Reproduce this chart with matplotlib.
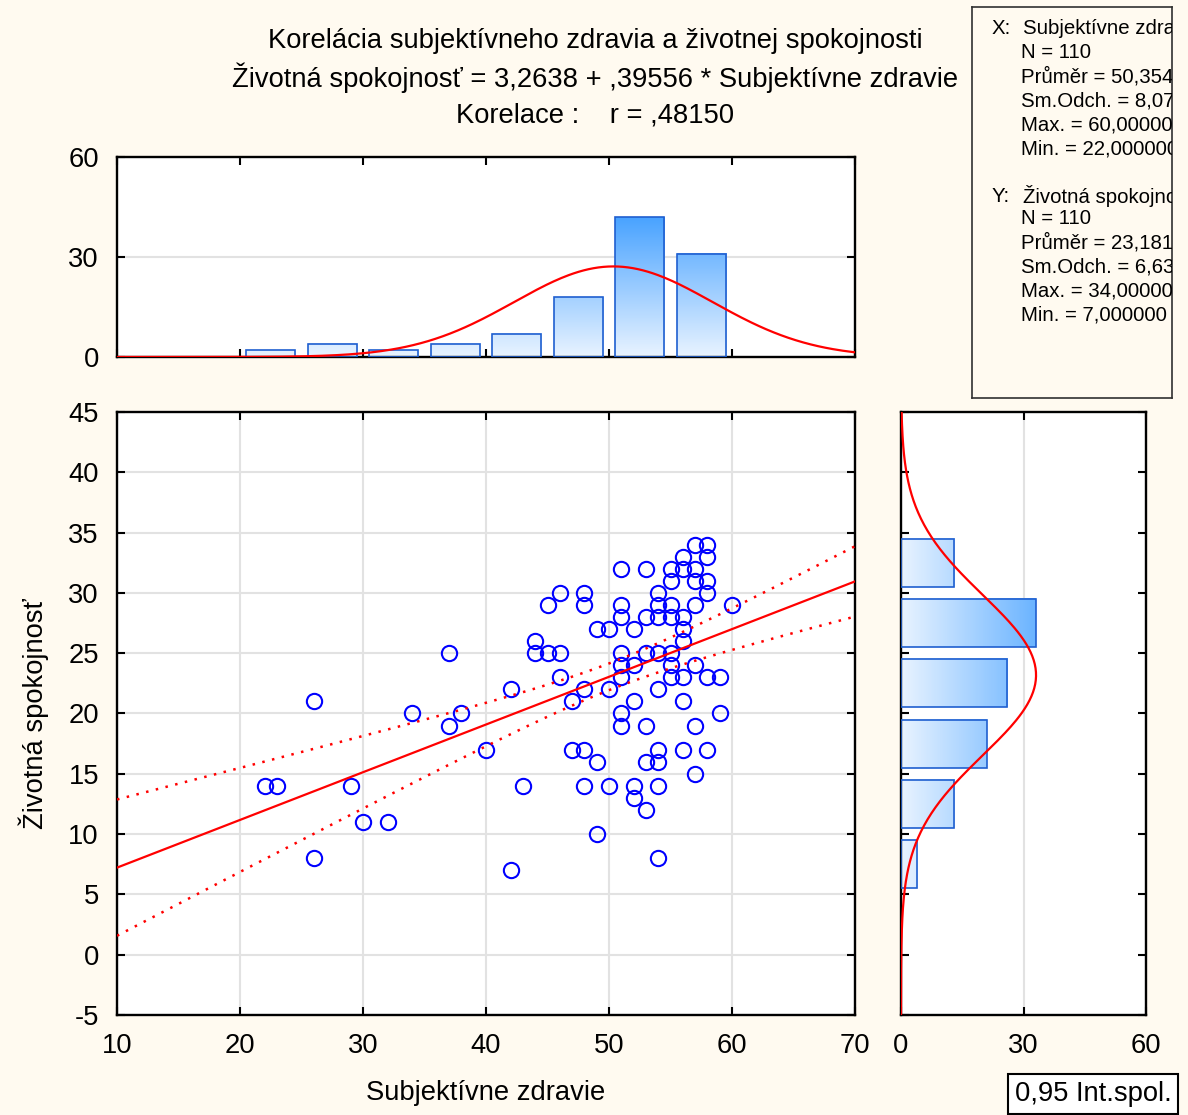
"""
Korelacia subjektivneho zdravia a zivotnej spokojnosti:
scatter plot with regression line, 0.95 band and marginal histograms.
"""

import numpy as np
import matplotlib as mpl
import matplotlib.pyplot as plt
from matplotlib.colors import LinearSegmentedColormap
from matplotlib.patches import Rectangle


# scatter points (overlapping duplicates are hidden):
zdravie = [22, 23, 26, 26, 29, 30, 32, 34, 37, 37, 38, 40, 42, 42, 43,
           44, 44, 45, 45, 46, 46, 46, 47, 47, 48, 48, 48, 48, 48,
           49, 49, 49, 50, 50, 50,
           51, 51, 51, 51, 51, 51, 51, 51,
           52, 52, 52, 52, 52,
           53, 53, 53, 53, 53, 53,
           54, 54, 54, 54, 54, 54, 54, 54, 54,
           55, 55, 55, 55, 55, 55, 55,
           56, 56, 56, 56, 56, 56, 56, 56,
           57, 57, 57, 57, 57, 57, 57,
           58, 58, 58, 58, 58, 58,
           59, 59, 60]
spokojnost = [14, 14, 21, 8, 14, 11, 11, 20, 25, 19, 20, 17, 22, 7, 14,
              26, 25, 29, 25, 30, 25, 23, 21, 17, 30, 29, 22, 17, 14,
              27, 16, 10, 27, 22, 14,
              32, 29, 28, 25, 24, 23, 20, 19,
              27, 24, 21, 14, 13,
              32, 28, 25, 19, 16, 12,
              30, 29, 28, 25, 22, 17, 16, 14, 8,
              32, 31, 29, 28, 25, 24, 23,
              33, 32, 28, 27, 26, 23, 21, 17,
              34, 32, 31, 29, 24, 19, 15,
              34, 33, 31, 30, 23, 17,
              23, 20, 29]

# marginal histograms (bin centers and counts):
hist_x_centers = [22.5, 27.5, 32.5, 37.5, 42.5, 47.5, 52.5, 57.5]
hist_x_counts = [2, 4, 2, 4, 7, 18, 42, 31]
hist_y_centers = [7.5, 12.5, 17.5, 22.5, 27.5, 32.5]
hist_y_counts = [4, 13, 21, 26, 33, 13]
bin_width = 5.0

# summary statistics as printed on the chart:
n_obs = 110
mean_x, sd_x = 50.354545, 8.0750
mean_y, sd_y = 23.181818, 6.6345
intercept, slope = 3.2638, 0.39556
r_xy = 0.48150
t_95 = 1.982

title_lines = ['Korelácia subjektívneho zdravia a životnej spokojnosti',
               'Životná spokojnosť = 3,2638 + ,39556 * Subjektívne zdravie',
               'Korelace :    r = ,48150']
stats_x = ['N = 110', 'Průměr = 50,354545', 'Sm.Odch. = 8,075000',
           'Max. = 60,000000', 'Min. = 22,000000']
stats_y = ['N = 110', 'Průměr = 23,181818', 'Sm.Odch. = 6,634500',
           'Max. = 34,000000', 'Min. = 7,000000']

W, H = 1188, 1115
bg_color = '#fffaf0'
bar_cmap = LinearSegmentedColormap.from_list('bars', ['#e8f3ff', '#0681ff'])
bar_edge = '#1f5fd0'
fs = 19.7


def px_rect(left, top, right, bottom):
    """ Axes rectangle from pixel coordinates (origin top left). """
    return [left/W, 1.0 - bottom/H, (right - left)/W, (bottom - top)/H]


def frame(ax):
    for s in ax.spines.values():
        s.set_linewidth(1.7)
        s.set_color('black')
    ax.tick_params(direction='in', top=True, right=True, length=6, width=1.5,
                   labelsize=fs, pad=13)


def grad_bar(ax, x0, x1, y0, y1, horizontal=False):
    """ Bar filled with a gradient along the value axis. """
    if horizontal:
        grad = np.linspace(x0, x1, 64).reshape(1, -1)
    else:
        grad = np.linspace(y0, y1, 64).reshape(-1, 1)
    ax.imshow(grad, extent=(x0, x1, y0, y1), origin='lower', cmap=bar_cmap,
              vmin=0, vmax=60, aspect='auto', zorder=2, interpolation='bilinear')
    ax.add_patch(Rectangle((x0, y0), x1 - x0, y1 - y0, fill=False,
                           edgecolor=bar_edge, lw=1.2, zorder=3))


def main():
    mpl.rcParams['font.family'] = ['Liberation Sans', 'DejaVu Sans']
    mpl.rcParams['axes.unicode_minus'] = False
    fig = plt.figure(figsize=(W/100, H/100), dpi=100)
    fig.patch.set_facecolor(bg_color)

    # scatter:
    ax = fig.add_axes(px_rect(117, 412, 855, 1015))
    frame(ax)
    ax.grid(True, color='#e2e2e2', lw=1.5)
    ax.set_axisbelow(True)
    ax.plot(zdravie, spokojnost, 'o', ms=11, mfc='none', mec='#0000ff', mew=1.5,
            zorder=4)
    xx = np.linspace(10, 70, 200)
    yy = intercept + slope*xx
    se = sd_y*np.sqrt(1 - r_xy**2)*np.sqrt((n_obs - 1)/(n_obs - 2))
    sxx = (n_obs - 1)*sd_x**2
    hw = t_95*se*np.sqrt(1.0/n_obs + (xx - mean_x)**2/sxx)
    ax.plot(xx, yy, color='#ff0000', lw=1.6, zorder=5)
    ax.plot(xx, yy + hw, color='#ff0000', lw=1.8, ls=(0, (1, 3)), zorder=5)
    ax.plot(xx, yy - hw, color='#ff0000', lw=1.8, ls=(0, (1, 3)), zorder=5)
    ax.set_xlim(10, 70)
    ax.set_ylim(-5, 45)
    ax.set_xticks(np.arange(10, 71, 10))
    ax.set_yticks(np.arange(-5, 46, 5))
    ax.set_xlabel('Subjektívne zdravie', fontsize=fs, labelpad=15)
    ax.set_ylabel('Životná spokojnosť', fontsize=fs, labelpad=14)

    # top histogram:
    axt = fig.add_axes(px_rect(117, 157, 855, 357))
    frame(axt)
    for c, n in zip(hist_x_centers, hist_x_counts):
        grad_bar(axt, c - 2, c + 2, 0, n)
    xt = np.linspace(10, 70, 300)
    axt.plot(xt, n_obs*bin_width*np.exp(-0.5*((xt - mean_x)/sd_x)**2)/(sd_x*np.sqrt(2*np.pi)),
             color='#ff0000', lw=1.6, zorder=4)
    axt.set_xlim(10, 70)
    axt.set_ylim(0, 60)
    axt.set_xticks(np.arange(10, 71, 10))
    axt.set_yticks([0, 30, 60])
    axt.set_xticklabels([])
    axt.grid(True, axis='y', color='#e2e2e2', lw=1.5)
    axt.set_axisbelow(True)

    # right histogram:
    axr = fig.add_axes(px_rect(901, 412, 1146, 1015))
    frame(axr)
    for c, n in zip(hist_y_centers, hist_y_counts):
        grad_bar(axr, 0, n, c - 2, c + 2, horizontal=True)
    yt = np.linspace(-5, 45, 300)
    axr.plot(n_obs*bin_width*np.exp(-0.5*((yt - mean_y)/sd_y)**2)/(sd_y*np.sqrt(2*np.pi)), yt,
             color='#ff0000', lw=1.6, zorder=4)
    axr.set_xlim(0, 60)
    axr.set_ylim(-5, 45)
    axr.set_xticks([0, 30, 60])
    axr.set_yticks(np.arange(-5, 46, 5))
    axr.set_yticklabels([])
    axr.grid(True, axis='x', color='#e2e2e2', lw=1.5)
    axr.set_axisbelow(True)

    # statistics box (texts are clipped at its right edge, as in the original):
    axs = fig.add_axes(px_rect(972, 7, 1172, 398))
    axs.set_facecolor(bg_color)
    axs.set_xticks([])
    axs.set_yticks([])
    for s in axs.spines.values():
        s.set_linewidth(1.2)
        s.set_color('#303030')
    axs.set_xlim(972, 1172)
    axs.set_ylim(398, 7)
    sfs = 14.7
    axs.text(992, 29, 'X:', fontsize=sfs, va='center', clip_on=True)
    axs.text(1023, 29, 'Subjektívne zdravie', fontsize=sfs, va='center', clip_on=True)
    for k, s in enumerate(stats_x):
        axs.text(1021, 53 + 24*k, s, fontsize=sfs, va='center', clip_on=True)
    axs.text(992, 196, 'Y:', fontsize=sfs, va='center', clip_on=True)
    axs.text(1023, 196, 'Životná spokojnosť', fontsize=sfs, va='center', clip_on=True)
    for k, s in enumerate(stats_y):
        axs.text(1021, 219 + 24*k, s, fontsize=sfs, va='center', clip_on=True)

    # title:
    for k, s in enumerate(title_lines):
        fig.text(595/W, 1 - (41 + 37*k)/H, s, fontsize=fs, ha='center', va='center')

    # legend box:
    fig.text(1093/W, 1 - 1094/H, '0,95 Int.spol.', fontsize=fs, ha='center', va='center',
             bbox=dict(boxstyle='square,pad=0.25', fc='white', ec='black', lw=1.5))

    fig.savefig('out.png', dpi=100, facecolor=bg_color)


if __name__ == "__main__":
    main()
